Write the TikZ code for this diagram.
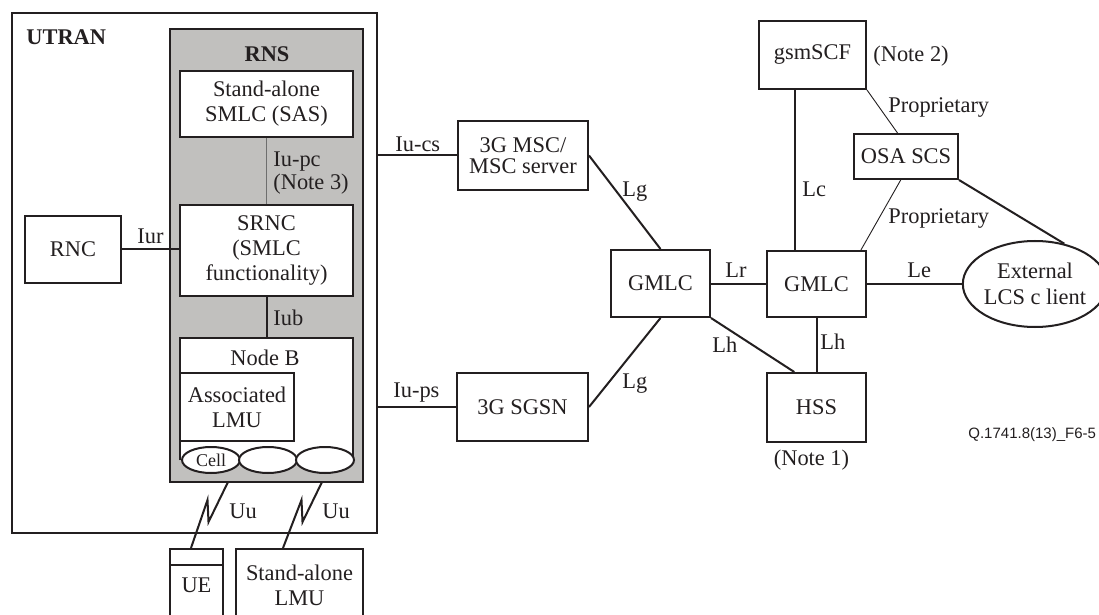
\documentclass[tikz,border=0pt]{standalone}
\usepackage{fontspec}
\setmainfont{Liberation Serif}
\newfontfamily\sfx{Liberation Sans}
\usetikzlibrary{calc,shapes.geometric}
\definecolor{ink}{RGB}{35,31,32}
\definecolor{rnsgray}{RGB}{193,192,190}
\definecolor{pcgray}{RGB}{110,110,110}
\begin{document}
\begin{tikzpicture}[x=0.5pt,y=-0.5pt,color=ink,
  font=\fontsize{11.2}{12.6}\selectfont,
  box/.style={draw, fill=white, line width=1pt, align=center, inner sep=0pt},
  lbl/.style={anchor=base west, inner sep=0pt},
  lblc/.style={anchor=base, inner sep=0pt},
  conn/.style={line width=1pt},
  thinln/.style={line width=0.45pt},
  cellell/.style={ellipse, draw, fill=white, line width=1pt, minimum width=29pt, minimum height=13pt, inner sep=0pt}]
\clip (0,0) rectangle (1099,615);
\fill[white] (0,0) rectangle (1099,615);
% UTRAN and RNS
\node[box, fill=none, minimum width=182.5pt, minimum height=260pt] (utran) at (194.5,273) {};
\node[box, fill=rnsgray, minimum width=96.5pt, minimum height=226.5pt] (rns) at (266.5,255.5) {};
\node[lbl, font=\fontsize{11.2}{12.6}\selectfont\bfseries] (utranlbl) at (26,45) {UTRAN};
\node[lblc, font=\fontsize{11.2}{12.6}\selectfont\bfseries] (rnslbl) at (267,62) {RNS};
\node[box, minimum width=86.5pt, minimum height=33pt] (sas) at (266.5,104) {Stand-alone\\SMLC (SAS)};
\node[box, minimum width=86.5pt, minimum height=45.5pt] (srnc) at (266.5,250.5) {SRNC\\(SMLC\\functionality)};
\node[box, minimum width=48pt, minimum height=33.5pt] (rnc) at (73,249.5) {RNC};
\node[fill=white, inner sep=0pt, minimum width=86.5pt, minimum height=61pt] (nodeb) at (266.5,399) {};
\draw[conn] (nodeb.south west) -- (nodeb.north west) -- (nodeb.north east) -- (nodeb.south east);
\node[lblc] (nodeblbl) at (265,365) {Node B};
\node[box, minimum width=57pt, minimum height=34pt] (almu) at (237,407) {Associated\\LMU};
\node[cellell] (cell1) at (211,460) {\fontsize{9}{10}\selectfont Cell};
\node[cellell] (cell2) at (268,460) {};
\node[cellell] (cell3) at (325,460) {};
% RNS internal connectors
\draw[line width=0.7pt, pcgray] (sas.south) -- (srnc.north);
\node[lbl] (iupc) at (273,167) {Iu-pc};
\node[lbl] (note3) at (273,190) {(Note 3)};
\draw[conn] (srnc.south) -- (nodeb.north);
\node[lbl] (iub) at (273,325) {Iub};
\draw[conn] (rnc.east) -- (rnc.east -| srnc.west);
\node[lbl] (iur) at (137,243) {Iur};
% UE and stand-alone LMU
\node[box, minimum width=26.5pt, minimum height=36pt] (ue) at (196.5,585) {};
\draw[conn] ($(ue.north west)+(0,17)$) -- ($(ue.north east)+(0,17)$);
\node[lblc] (uelbl) at (196.5,592) {UE};
\node[box, minimum width=63.5pt, minimum height=36pt] (slmu) at (299.5,585) {Stand-alone\\LMU};
\coordinate (uu1t) at (228,482);
\coordinate (uu2t) at (322,482);
\coordinate (uu1b) at ($(ue.north west)+(22,0)$);
\coordinate (uu2b) at ($(slmu.north west)+(48,0)$);
\draw[conn] (uu1t) -- ++(-19.5,40) -- ++(-1,-22) -- (uu1b);
\draw[conn] (uu2t) -- ++(-19.5,40) -- ++(-1,-22) -- (uu2b);
\node[lbl] (uu1) at (229,518) {Uu};
\node[lbl] (uu2) at (322,518) {Uu};
% Core network
\node[box, minimum width=65pt, minimum height=34.5pt, font=\fontsize{11.2}{10.8}\selectfont] (msc) at (523,155.5) {3G MSC/\\MSC server};
\node[box, minimum width=65.5pt, minimum height=34pt] (sgsn) at (522.5,407) {3G SGSN};
\node[box, minimum width=49.5pt, minimum height=33.5pt] (gmlca) at (660.5,283.5) {GMLC};
\node[box, minimum width=49.5pt, minimum height=33pt] (gmlcb) at (816.5,284) {GMLC};
\node[box, minimum width=49.5pt, minimum height=34.5pt] (hss) at (816.5,407.5) {HSS};
\node[box, minimum width=53.5pt, minimum height=34pt] (gsmscf) at (812.5,55) {gsmSCF};
\node[box, minimum width=52pt, minimum height=22.5pt] (osa) at (906,156.5) {OSA SCS};
\node[ellipse, draw, line width=1pt, fill=white, minimum width=62pt, minimum height=43pt, inner sep=0pt, align=center, font=\fontsize{11.2}{13}\selectfont] (ext) at (1035,284) {External\\LCS c lient};
\draw[conn] (msc.west -| utran.east) -- (msc.west);
\node[lbl] (iucs) at (395,152) {Iu-cs};
\draw[conn] (sgsn.west -| utran.east) -- (sgsn.west);
\node[lbl] (iups) at (393,397) {Iu-ps};
\draw[conn] (msc.east) -- (gmlca.north);
\node[lbl] (lg1) at (622,197) {Lg};
\draw[conn] (gmlca.south) -- (sgsn.east);
\node[lbl] (lg2) at (622,388) {Lg};
\draw[conn] (gmlca.east) -- (gmlca.east -| gmlcb.west);
\node[lbl] (lr) at (725,278) {Lr};
\draw[conn] (gmlca.south east) -- ($(hss.north west)!0.28!(hss.north east)$);
\node[lbl] (lh1) at (712,352) {Lh};
\draw[conn] (gmlcb.south) -- (hss.north);
\node[lbl] (lh2) at (820,350) {Lh};
\coordinate (lcb) at ($(gmlcb.north west)!0.29!(gmlcb.north east)$);
\draw[conn] (lcb |- gsmscf.south) -- (lcb);
\node[lbl] (lc) at (802,197) {Lc};
\draw[thinln] (gsmscf.south east) -- ($(osa.north west)!0.42!(osa.north east)$);
\node[lbl] (prop1) at (888,113) {Proprietary};
\draw[thinln] ($(osa.south west)!0.45!(osa.south east)$) -- ($(gmlcb.north west)!0.94!(gmlcb.north east)$);
\node[lbl] (prop2) at (888,224) {Proprietary};
\draw[conn] (osa.south east) -- (ext.54);
\draw[conn] (gmlcb.east) -- (ext.west);
\node[lbl] (le) at (907,278) {Le};
\node[lbl] (note2) at (873,62) {(Note 2)};
\node[lblc] (note1) at (811.5,465) {(Note 1)};
\node[lbl, font=\sfx\fontsize{7.5}{9}\selectfont] (figid) at (968,438) {Q.1741.8(13)\_F6-5};
\end{tikzpicture}
\end{document}
